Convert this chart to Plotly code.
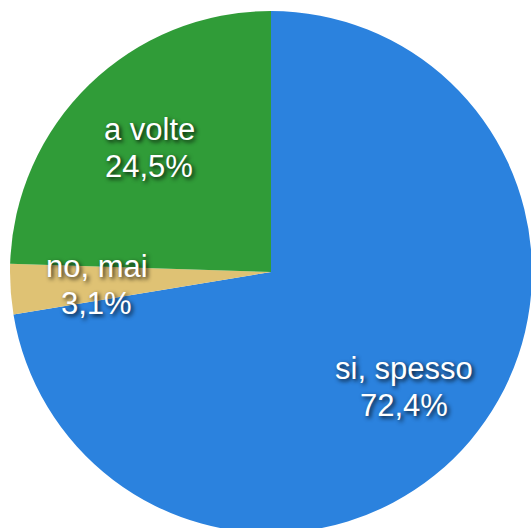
import math
import plotly.graph_objects as go

labels = ["si, spesso", "no, mai", "a volte"]
values = [72.4, 3.1, 24.5]
colors = ["#2b82de", "#dfc274", "#309c38"]

W, H = 532, 533
ML, MT, MR, MB = 10, 11, 0, 0
pw, ph = W - ML - MR, H - MT - MB
R = min(pw, ph) / 2
cx, cy = ML + pw / 2, MT + ph / 2

fig = go.Figure(go.Pie(
    labels=labels, values=values, sort=False, direction="clockwise",
    rotation=0, marker=dict(colors=colors, line=dict(width=0)),
    textinfo="none", hoverinfo="label+percent", showlegend=False,
))

font = dict(family="Liberation Sans, Arial, sans-serif", size=31, color="white",
            shadow="2px 2px 4px rgba(0,0,0,0.85)")

total = sum(values)
acc = 0
for lab, v in zip(labels, values):
    mid = (acc + v / 2) / total * 2 * math.pi
    acc += v
    r = 0.67 * R
    px = cx + r * math.sin(mid)
    py = cy - r * math.cos(mid)
    pct = f"{v / total * 100:.1f}".replace(".", ",")
    for txt, dy in ((lab, -17), (f"{pct}%", 20)):
        fig.add_annotation(
            x=(px - ML) / pw, y=1 - (py + dy - MT) / ph, xref="paper", yref="paper",
            text=txt, showarrow=False, font=font,
            xanchor="center", yanchor="middle",
        )

fig.update_layout(
    width=W, height=H, margin=dict(l=ML, t=MT, r=MR, b=MB),
    paper_bgcolor="white", plot_bgcolor="white",
)

post = (
    "var gd=document.getElementById('{plot_id}');"
    "document.documentElement.style.overflow='hidden';"
    "document.body.style.margin='0';document.body.style.overflow='hidden';"
    "gd.parentElement.style.cssText='width:531px;height:528px;overflow:hidden;';"
)
fig.write_html("out.html", post_script=post, config={"displayModeBar": False})
